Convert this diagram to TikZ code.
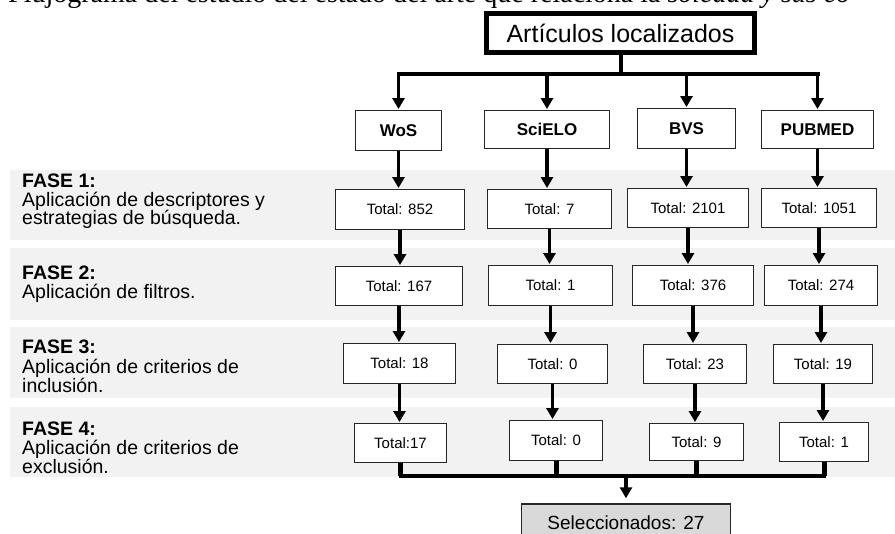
\documentclass[tikz,border=0pt]{standalone}
\usepackage{fontspec}
\setmainfont{Liberation Sans}
\newfontfamily\capfont{Liberation Serif}
\usetikzlibrary{arrows.meta}
\begin{document}
\begin{tikzpicture}[x=1pt,y=-1pt,
  box/.style={draw=black!85, line width=1.4pt, fill=white, inner sep=0pt, font=\fontsize{15}{15}\selectfont},
  src/.style={box, font=\bfseries\fontsize{17}{17}\selectfont},
  band/.style={fill=black!5, draw=none},
  arr/.style={line width=3.5pt, -{Triangle[length=11pt,width=12pt]}, shorten >=1pt},
  conn/.style={line width=4pt},
  merge/.style={line width=5pt},
  fase/.style={anchor=base west, inner sep=0pt, font=\fontsize{19.5}{19.5}\selectfont},
  faseb/.style={fase, font=\bfseries\fontsize{19.5}{19.5}\selectfont},
  ]
\useasboundingbox (0,0) rectangle (895,534);
\clip (0,0) rectangle (895,534);

% caption (cropped at the top edge)
\node[anchor=base west, inner sep=0pt, font=\capfont\fontsize{28}{28}\selectfont] (cap) at (8,3)
  {Flujograma del estudio del estado del arte que relaciona la \textit{soledad y sus co}};

% bands
\fill[band] (10,170) rectangle (895,240);
\fill[band] (10,248) rectangle (895,320);
\fill[band] (10,327) rectangle (895,398);
\fill[band] (10,407) rectangle (895,477);

% phase texts
\node[faseb] (f1t) at (22,188) {FASE 1:};
\node[fase] (f1a) at (22,207) {Aplicación de descriptores y};
\node[fase] (f1b) at (22,225) {estrategias de búsqueda.};
\node[faseb] (f2t) at (22,280) {FASE 2:};
\node[fase] (f2a) at (22,299) {Aplicación de filtros.};
\node[faseb] (f3t) at (22,354) {FASE 3:};
\node[fase] (f3a) at (22,374) {Aplicación de criterios de};
\node[fase] (f3b) at (22,393) {inclusión.};
\node[faseb] (f4t) at (22,436) {FASE 4:};
\node[fase] (f4a) at (22,455) {Aplicación de criterios de};
\node[fase] (f4b) at (22,474) {exclusión.};

% top box
\node[draw=black, line width=5pt, minimum width=268pt, minimum height=39pt, inner sep=0pt,
      font=\fontsize{25}{25}\selectfont] (top) at (620.5,33) {Artículos localizados};

% source boxes
\node[src, minimum width=85.5pt, minimum height=39.5pt] (wos) at (398.5,130.5) {WoS};
\node[src, minimum width=124.5pt, minimum height=37.5pt] (sci) at (547,129.5) {SciELO};
\node[src, minimum width=97.5pt, minimum height=39.5pt] (bvs) at (686.5,128.5) {BVS};
\node[src, minimum width=111.5pt, minimum height=37.5pt] (pub) at (817.5,129.5) {PUBMED};

% row 1
\node[box, minimum width=128.5pt, minimum height=39.5pt] (a1) at (400,209.5) {Total: 852};
\node[box, minimum width=123.5pt, minimum height=38.5pt] (b1) at (549.5,209) {Total: 7};
\node[box, minimum width=120.5pt, minimum height=38.5pt] (c1) at (688,208) {Total: 2101};
\node[box, minimum width=114.5pt, minimum height=38.5pt] (d1) at (819,208) {Total: 1051};
% row 2
\node[box, minimum width=126.5pt, minimum height=38.5pt] (a2) at (399,286) {Total: 167};
\node[box, minimum width=123.5pt, minimum height=39.5pt] (b2) at (550.5,285.5) {Total: 1};
\node[box, minimum width=120.5pt, minimum height=39.5pt] (c2) at (693,285.5) {Total: 376};
\node[box, minimum width=112.5pt, minimum height=39.5pt] (d2) at (821,285.5) {Total: 274};
% row 3
\node[box, minimum width=111.5pt, minimum height=39.5pt] (a3) at (399.5,363.5) {Total: 18};
\node[box, minimum width=109.5pt, minimum height=38.5pt] (b3) at (552.5,364) {Total: 0};
\node[box, minimum width=102.5pt, minimum height=38.5pt] (c3) at (695,364) {Total: 23};
\node[box, minimum width=98.5pt, minimum height=38.5pt] (d3) at (823,364) {Total: 19};
% row 4
\node[box, minimum width=91.5pt, minimum height=38.5pt] (a4) at (400.5,443) {Total:17};
\node[box, minimum width=92.5pt, minimum height=39.5pt] (b4) at (556,440.5) {Total: 0};
\node[box, minimum width=93.5pt, minimum height=36.5pt] (c4) at (696.5,442) {Total: 9};
\node[box, minimum width=88.5pt, minimum height=38.5pt] (d4) at (824,442) {Total: 1};

% final
\node[box, fill=black!15, minimum width=208.5pt, minimum height=38pt,
      font=\fontsize{19}{19}\selectfont] (sel) at (626,523) {Seleccionados: 27};

% top distribution
\coordinate (hub) at (620.5,74);
\draw[conn] (top.south) -- (hub);
\draw[conn, line cap=rect] (wos.north |- hub) -- (pub.north |- hub);
\foreach \s in {wos,sci,bvs,pub}
  \draw[arr] (\s.north |- hub) -- (\s.north);

% column arrows
\foreach \u/\v in {wos/a1,a1/a2,a2/a3,a3/a4, sci/b1,b1/b2,b2/b3,b3/b4,
                   bvs/c1,c1/c2,c2/c3,c3/c4, pub/d1,d1/d2,d2/d3,d3/d4}
  \draw[arr] (\u.south) -- (\u.south |- \v.north);

% merge
\coordinate (low) at (626,476);
\foreach \s in {a4,b4,c4,d4}
  \draw[merge] (\s.south) -- (\s.south |- low);
\draw[conn, line cap=rect] (a4.south |- low) -- (d4.south |- low);
\draw[arr, shorten >=5pt] (low) -- (sel.north);
\end{tikzpicture}
\end{document}
